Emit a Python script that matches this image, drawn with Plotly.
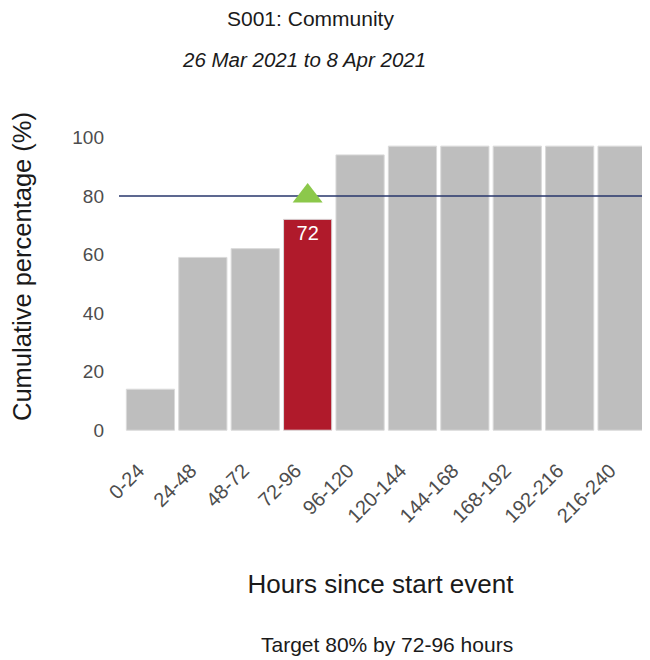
import plotly.graph_objects as go

# data
hour_bands = ['0-24', '24-48', '48-72', '72-96', '96-120', '120-144',
              '144-168', '168-192', '192-216', '216-240']
cum_pct = [14, 59, 62, 72, 94, 97, 97, 97, 97, 97]
target_pct = 80
target_band = '72-96'

FONT = 'Liberation Sans, Arial, sans-serif'
GREY = '#BEBEBE'
RED = '#B01A2B'

bar_colors = [RED if b == target_band else GREY for b in hour_bands]
bar_text = [str(v) if b == target_band else '' for b, v in zip(hour_bands, cum_pct)]

fig = go.Figure()
fig.add_trace(
    go.Bar(
        x=hour_bands,
        y=cum_pct,
        marker=dict(color=bar_colors, line=dict(color='#DADADA', width=1)),
        text=bar_text,
        textposition='inside',
        insidetextanchor='end',
        textfont=dict(color='white', size=20, family=FONT),
        showlegend=False,
        hoverinfo='skip',
    )
)
# target line across the whole panel (own overlay axis, so it sits over the bars)
fig.add_trace(
    go.Scatter(
        x=[0, 1],
        y=[target_pct, target_pct],
        xaxis='x2',
        mode='lines',
        line=dict(color='#27366B', width=1.5),
        showlegend=False,
        hoverinfo='skip',
    )
)
# target marker, drawn on top of the line
fig.add_trace(
    go.Scatter(
        x=[target_band],
        y=[target_pct],
        xaxis='x3',
        mode='markers',
        marker=dict(symbol='triangle-up', size=26, color='#8CC84B'),
        showlegend=False,
        hoverinfo='skip',
    )
)

# the page has an 8px body margin, so the figure is smaller than the window
fig.update_layout(
    width=634,
    height=652,
    margin=dict(l=111, r=0, t=86, b=221),
    plot_bgcolor='white',
    paper_bgcolor='white',
    bargap=0.08,
    font=dict(family=FONT, color='#1A1A1A'),
    xaxis=dict(
        type='category',
        categoryarray=hour_bands,
        range=[-0.6, 9.38],
        tickangle=-45,
        tickfont=dict(size=20, color='#4D4D4D'),
        ticklabelstandoff=15,
        ticklabelshift=-12,
        showgrid=False,
        zeroline=False,
        showline=False,
        ticks='',
        automargin=False,
        title=dict(text='Hours since start event', font=dict(size=26, color='#1A1A1A'), standoff=48),
    ),
    xaxis2=dict(overlaying='x', range=[0, 1], visible=False),
    xaxis3=dict(overlaying='x', matches='x', type='category', visible=False),
    yaxis=dict(
        range=[-3, 114.8],
        tickvals=[0, 20, 40, 60, 80, 100],
        tickfont=dict(size=19, color='#4D4D4D'),
        ticklabelstandoff=14,
        showgrid=False,
        zeroline=False,
        showline=False,
        ticks='',
        automargin=False,
        title=dict(text='Cumulative percentage (%)', font=dict(size=25.5, color='#1A1A1A'), standoff=36),
    ),
    annotations=[
        dict(text='S001: Community', xref='paper', yref='paper', x=0.367, y=1,
             yanchor='middle', yshift=76, showarrow=False, font=dict(size=21, color='#1A1A1A')),
        dict(text='<i>26 Mar 2021 to 8 Apr 2021</i>', xref='paper', yref='paper', x=0.3528, y=1,
             yanchor='middle', yshift=35, showarrow=False, font=dict(size=20.5, color='#1A1A1A')),
        dict(text='Target 80% by 72-96 hours', xref='paper', yref='paper', x=0.5115, y=0,
             yanchor='middle', yshift=-205, showarrow=False, font=dict(size=21, color='#1A1A1A')),
    ],
)

fig.write_html('out.html')
